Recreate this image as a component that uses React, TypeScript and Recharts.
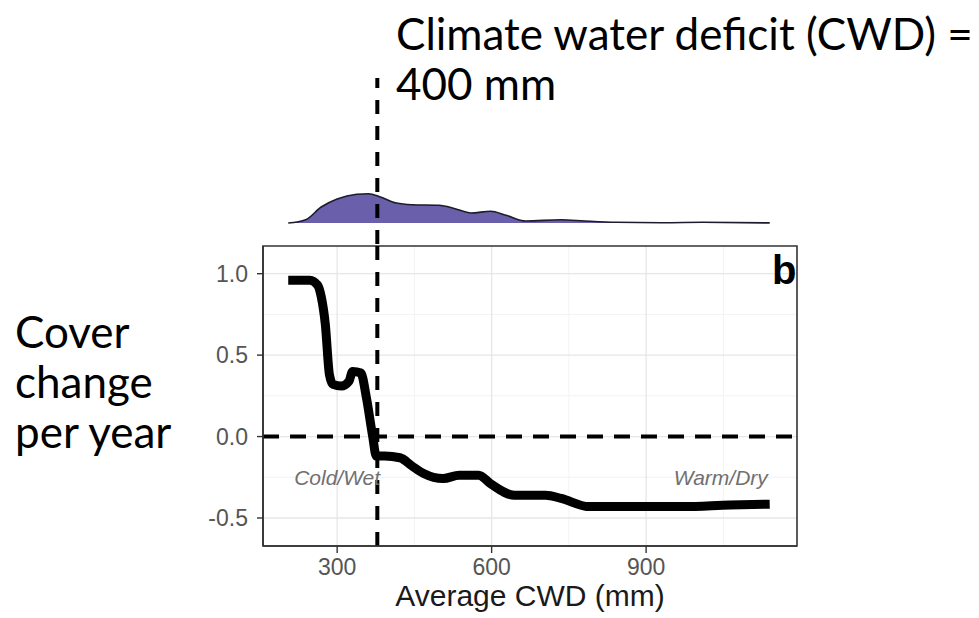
import {
  ComposedChart,
  AreaChart,
  Area,
  Line,
  XAxis,
  YAxis,
  CartesianGrid,
  ReferenceLine,
  ReferenceDot,
  ReferenceArea,
} from "recharts";

// cover change curve
const cwd = [
  205, 247, 262, 269, 277, 285, 292, 308, 323, 330, 346, 357, 369, 376, 392,
  422, 445, 468, 506, 537, 575, 598, 644, 705, 735, 789, 857, 972, 1063, 1140,
];
const cover = [
  0.96, 0.96, 0.93, 0.86, 0.69, 0.38, 0.32, 0.31, 0.34, 0.4, 0.39, 0.235, 0.0,
  -0.12, -0.12, -0.13, -0.18, -0.227, -0.258, -0.237, -0.237, -0.29, -0.36,
  -0.36, -0.38, -0.43, -0.43, -0.43, -0.42, -0.415,
];

// marginal density of sites along CWD (relative units)
const densX = [
  205, 239, 269, 300, 338, 361, 384, 415, 445, 498, 529, 560, 598, 628, 666,
  735, 781, 842, 934, 1010, 1140,
];
const densY = [
  0, 0.33, 1.6, 2.4, 2.87, 2.93, 2.6, 2.0, 1.83, 1.77, 1.43, 1.0, 1.17, 0.77,
  0.2, 0.33, 0.2, 0.07, 0.03, 0.07, 0.01,
];

const xTicks = [300, 600, 900];
const xMinor = [450, 750, 1050];
const yTicks = [-0.5, 0, 0.5, 1];
const yMinor = [-0.25, 0.25, 0.75];
const xDomain: [number, number] = [156, 1193];
const yDomain: [number, number] = [-0.672, 1.17];
const densDomain: [number, number] = [-2.1, 14.5];
const threshold = 378;

const W = 979;
const H = 618;
const FONT = '"Liberation Sans", Arial, sans-serif';

const curveData = cwd.map((x, i) => ({ cwd: x, cover: cover[i] }));
const densData = densX.map((x, i) => ({ cwd: x, dens: densY[i] }));

function regionLabel(text: string) {
  return (props: any) => {
    const vb = props.viewBox || {};
    const cx = (vb.x ?? 0) + (vb.width ?? 0) / 2;
    const cy = (vb.y ?? 0) + (vb.height ?? 0) / 2;
    return (
      <text
        x={cx}
        y={cy}
        textAnchor="middle"
        dominantBaseline="central"
        fill="#707070"
        fontSize={21}
        fontStyle="italic"
        fontFamily={FONT}
      >
        {text}
      </text>
    );
  };
}

const pptText: React.CSSProperties = {
  position: "absolute",
  fontFamily: "Lato, 'Open Sans', sans-serif",
  fontSize: 44,
  lineHeight: "50px",
  color: "#000",
  whiteSpace: "nowrap",
};

export default function App() {
  return (
    <div
      style={{
        position: "absolute",
        left: 0,
        top: 0,
        width: W,
        height: H,
        background: "#fff",
        overflow: "hidden",
      }}
    >
      {/* density strip + upper part of threshold line */}
      <div style={{ position: "absolute", left: 0, top: 0 }}>
        <AreaChart
          width={W}
          height={H}
          data={densData}
          margin={{ top: 78, right: 182, bottom: 374, left: 263 }}
        >
          <XAxis dataKey="cwd" type="number" domain={xDomain} hide allowDataOverflow />
          <YAxis type="number" domain={densDomain} hide allowDataOverflow />
          <Area
            type="monotone"
            dataKey="dens"
            stroke="#1c1c2a"
            strokeWidth={1.6}
            fill="#6a5fab"
            fillOpacity={1}
            baseValue={0}
            dot={false}
            isAnimationActive={false}
          />
          <ReferenceLine
            x={threshold}
            stroke="#000"
            strokeWidth={4}
            strokeDasharray="14 12"
          />
        </AreaChart>
      </div>

      {/* main panel */}
      <div style={{ position: "absolute", left: 0, top: 0 }}>
        <ComposedChart
          width={W}
          height={H}
          data={curveData}
          margin={{ top: 246, right: 182, bottom: 0, left: 0 }}
        >
          <CartesianGrid
            stroke="#f3f3f3"
            strokeWidth={1}
            horizontalValues={yMinor}
            verticalValues={xMinor}
          />
          <CartesianGrid
            stroke="#e6e6e6"
            strokeWidth={1.3}
            horizontalValues={yTicks}
            verticalValues={xTicks}
          />
          <XAxis
            dataKey="cwd"
            type="number"
            domain={xDomain}
            ticks={xTicks}
            allowDataOverflow
            height={72}
            tickSize={7}
            tickMargin={6}
            axisLine={{ stroke: "#333", strokeWidth: 1.6 }}
            tickLine={{ stroke: "#333", strokeWidth: 1.4 }}
            tick={{ fill: "#555", fontSize: 23, fontFamily: FONT }}
            label={{
              value: "Average CWD (mm)",
              position: "insideTop",
              offset: 39,
              fill: "#1a1a1a",
              fontSize: 30,
              fontFamily: FONT,
            }}
          />
          <YAxis
            type="number"
            domain={yDomain}
            ticks={yTicks}
            allowDataOverflow
            width={263}
            tickSize={6}
            tickMargin={9}
            tickFormatter={(v: number) => v.toFixed(1)}
            axisLine={{ stroke: "#333", strokeWidth: 1.6 }}
            tickLine={{ stroke: "#333", strokeWidth: 1.4 }}
            tick={{ fill: "#555", fontSize: 23, fontFamily: FONT }}
          />
          <ReferenceLine
            y={0}
            stroke="#000"
            strokeWidth={4}
            strokeDasharray="16 11"
          />
          <Line
            type="monotone"
            dataKey="cover"
            stroke="#000"
            strokeWidth={9}
            strokeLinejoin="round"
            dot={false}
            isAnimationActive={false}
          />
          {/* panel border */}
          <ReferenceArea
            x1={xDomain[0]}
            x2={xDomain[1]}
            y1={yDomain[0]}
            y2={yDomain[1]}
            fill="none"
            fillOpacity={0}
            stroke="#333"
            strokeWidth={1.6}
            ifOverflow="visible"
          />
          <ReferenceLine
            x={threshold}
            stroke="#000"
            strokeWidth={4}
            strokeDasharray="14 12"
          />
          <ReferenceDot
            x={300}
            y={-0.25}
            r={0}
            fill="none"
            stroke="none"
            label={regionLabel("Cold/Wet")}
          />
          <ReferenceDot
            x={1045}
            y={-0.25}
            r={0}
            fill="none"
            stroke="none"
            label={regionLabel("Warm/Dry")}
          />
        </ComposedChart>
      </div>

      <div
        style={{
          position: "absolute",
          left: 772,
          top: 250,
          fontFamily: FONT,
          fontWeight: "bold",
          fontSize: 40,
          lineHeight: "40px",
          color: "#000",
        }}
      >
        b
      </div>

      <div style={{ ...pptText, left: 396, top: 8 }}>
        Climate water deficit (CWD) =
      </div>
      <div style={{ ...pptText, left: 396, top: 58 }}>400 mm</div>

      <div style={{ ...pptText, left: 15, top: 306 }}>
        Cover
        <br />
        change
        <br />
        per year
      </div>
    </div>
  );
}
